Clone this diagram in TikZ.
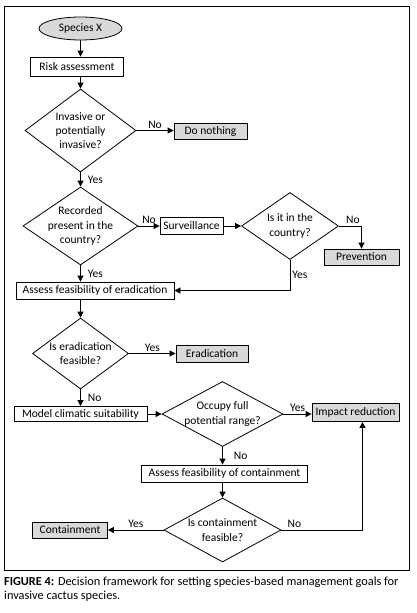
\documentclass[tikz,border=0pt]{standalone}
\usepackage{fontspec}
\setmainfont{Carlito}
\usetikzlibrary{shapes.geometric,arrows.meta}
\begin{document}
\begin{tikzpicture}[x=1pt,y=-1pt,
  font=\fontsize{11.5}{14.3}\selectfont,
  base/.style={draw=black,line width=0.8pt,align=center},
  box/.style={base,rectangle,inner sep=0pt,minimum height=17pt},
  goal/.style={box,fill=black!15},
  dec/.style={base,diamond,aspect=1.4,inner sep=-6pt},
  arr/.style={line width=0.8pt,-{Triangle[length=6pt,width=6pt]}},
  lbl/.style={inner sep=2pt}
]
\useasboundingbox (0,0) rectangle (416,613);
\draw[line width=1pt] (4.5,6) rectangle (409.5,570);

\node[base,ellipse,fill=black!15,inner sep=0pt,minimum width=83pt,minimum height=23pt] (sp) at (80.5,28.5) {Species X};
\node[box,minimum width=93pt,minimum height=19pt] (risk) at (77,66.5) {Risk assessment};
\node[dec,minimum width=111pt,minimum height=83pt] (d1) at (80.5,130.5) {Invasive or\\potentially\\invasive?};
\node[goal,minimum width=73pt,minimum height=16pt] (nothing) at (210.5,131) {Do nothing};
\node[dec,minimum width=115pt,minimum height=78pt] (d2) at (80.5,226) {Recorded\\present in the\\country?};
\node[box,minimum width=63pt] (surv) at (191.5,226) {Surveillance};
\node[dec,minimum width=97pt,minimum height=67pt] (d3) at (290,226) {Is it in the\\country?};
\node[goal,minimum width=75pt,minimum height=16pt] (prev) at (361.5,257) {Prevention};
\node[box,minimum width=158pt] (erad) at (95,290.5) {Assess feasibility of eradication};
\node[dec,minimum width=96pt,minimum height=71pt] (d4) at (80.5,353.5) {Is eradication\\feasible?};
\node[goal,minimum width=72pt] (eradication) at (212,353.5) {Eradication};
\node[box,minimum width=133pt,minimum height=15pt] (model) at (80.5,414) {Model climatic suitability};
\node[dec,minimum width=121pt,minimum height=65pt] (d5) at (222.5,414) {Occupy full\\potential range?};
\node[goal,minimum width=87pt,minimum height=18pt] (impact) at (355.5,412.5) {Impact reduction};
\node[box,minimum width=166pt] (cont) at (224.5,473.5) {Assess feasibility of containment};
\node[dec,minimum width=117pt,minimum height=64pt] (d6) at (222.5,530) {Is containment\\feasible?};
\node[goal,minimum width=75pt,minimum height=16pt] (containment) at (70,530) {Containment};

\draw[arr] (sp.south) -- (sp.south |- risk.north);
\draw[arr] (risk.south -| d1.north) -- (d1.north);
\draw[arr] (d1.east) -- (d1.east -| nothing.west) node[lbl,midway,above]{No};
\draw[arr] (d1.south) -- (d2.north) node[lbl,midway,right=5pt]{Yes};
\draw[arr] (d2.east) -- (surv.west) node[lbl,midway,above]{No};
\draw[arr] (surv.east) -- (d3.west);
\draw[arr] (d3.east) -| (prev.north) node[lbl,pos=0.31,above]{No};
\draw[arr] (d3.south) |- (erad.east) node[lbl,pos=0.25,right]{Yes};
\draw[arr] (d2.south) -- (d2.south |- erad.north) node[lbl,midway,right=5pt]{Yes};
\draw[arr] (erad.south -| d4.north) -- (d4.north);
\draw[arr] (d4.east) -- (eradication.west) node[lbl,midway,above]{Yes};
\draw[arr] (d4.south) -- (d4.south |- model.north) node[lbl,midway,right=5pt]{No};
\draw[arr] (model.east) -- (d5.west);
\draw[arr] (d5.east) -- (d5.east -| impact.west) node[lbl,midway,above]{Yes};
\draw[arr] (d5.south) -- (d5.south |- cont.north) node[lbl,midway,right=9pt]{No};
\draw[arr] (cont.south -| d6.north) -- (d6.north);
\draw[arr] (d6.west) -- (containment.east) node[lbl,midway,above]{Yes};
\coordinate (impin) at ([xshift=7pt]impact.south);
\draw[arr] (d6.east) -| (impin) node[lbl,pos=0.08,above]{No};

\node[anchor=north west,align=left,inner sep=0pt,font=\fontsize{12.3}{14.7}\selectfont] (cap) at (4,576.5)
  {\textbf{FIGURE 4:} Decision framework for setting species-based management goals for\\invasive cactus species.};
\end{tikzpicture}
\end{document}
